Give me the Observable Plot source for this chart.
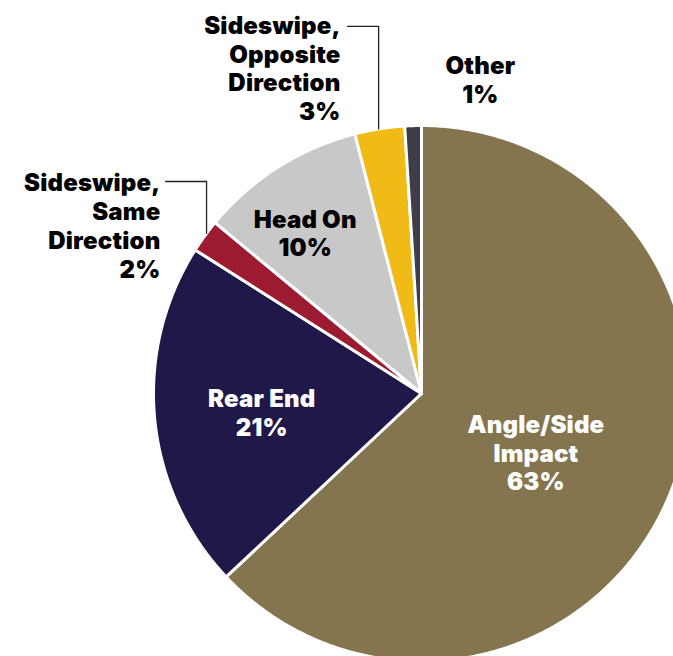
<!DOCTYPE html>
<html>
<head>
<meta charset="utf-8">
<script src="https://cdn.jsdelivr.net/npm/d3@7"></script>
<script src="https://cdn.jsdelivr.net/npm/@observablehq/plot@0.6"></script>
<style>
  html, body { margin: 0; padding: 0; background: #fff; overflow: hidden; }
  #chart svg { display: block; overflow: hidden; }
  #chart svg text { letter-spacing: 0.2px; }
</style>
</head>
<body>
<div id="chart"></div>
<script>
// ---- data ----
const categories = ["Angle/Side Impact", "Rear End", "Sideswipe, Same Direction", "Head On", "Sideswipe, Opposite Direction", "Other"];
const values = [63, 21, 2, 10, 3, 1];
const colors = ["#85754E", "#21184A", "#9C1B30", "#C8C8C8", "#F1BB17", "#3E3E48"];
const labelLines = [
  ["Angle/Side", "Impact", "63%"],
  ["Rear End", "21%"],
  ["Sideswipe,", "Same", "Direction", "2%"],
  ["Head On", "10%"],
  ["Sideswipe,", "Opposite", "Direction", "3%"],
  ["Other", "1%"]
];
const labelColors = ["#fff", "#fff", "#000", "#000", "#000", "#000"];

// ---- layout (in pie-radius units) ----
const labelLayout = [
  {mode: "in", r: 0.48, dBearing: 3.8},
  {mode: "in", r: 0.60, dBearing: -1.2},
  {mode: "out", x: -0.974, y: 0.627, anchor: "end", leader: {x0: -0.955, xe: -0.802, y: 0.791}},
  {mode: "in", r: 0.74, dBearing: -3.5},
  {mode: "out", x: -0.302, y: 1.215, anchor: "end", leader: {x0: -0.276, xe: -0.160, y: 1.37}},
  {mode: "out", x: 0.220, y: 1.172, anchor: "middle"}
];

// ---- build geometry from data ----
const total = d3.sum(values);
const slices = [];
let acc = 0;
values.forEach((v, i) => {
  const a0 = acc / total * 360, a1 = (acc + v) / total * 360;
  acc += v;
  slices.push({cat: categories[i], a0, a1, mid: (a0 + a1) / 2, i});
});
const toXY = (bearing, r) => {
  const t = bearing * Math.PI / 180;
  return [r * Math.sin(t), r * Math.cos(t)];
};
const arcPts = [];
slices.forEach(s => {
  arcPts.push({cat: s.cat, x: 0, y: 0});
  const n = Math.max(4, Math.ceil((s.a1 - s.a0) / 0.5));
  for (let k = 0; k <= n; k++) {
    const [x, y] = toXY(s.a0 + (s.a1 - s.a0) * k / n, 1);
    arcPts.push({cat: s.cat, x, y});
  }
  arcPts.push({cat: s.cat, x: 0, y: 0});
});

const labels = slices.map(s => {
  const L = labelLayout[s.i];
  let x, y;
  if (L.mode === "in") { [x, y] = toXY(s.mid + L.dBearing, L.r); }
  else { x = L.x; y = L.y; }
  return {text: labelLines[s.i].join("\n"), x, y, color: labelColors[s.i], anchor: L.mode === "in" ? "middle" : L.anchor};
});

const leaders = [];
labelLayout.forEach((L, i) => {
  if (!L.leader) return;
  const {x0, xe, y} = L.leader;
  const yEnd = Math.sqrt(1 - xe * xe);
  leaders.push({k: i, x: x0, y}, {k: i, x: xe, y}, {k: i, x: xe, y: yEnd});
});

const font = "Inter, Lato, sans-serif";
const mkText = (anchor) => Plot.text(labels.filter(d => d.anchor === anchor), {
  x: "x", y: "y", text: "text", fill: "color",
  textAnchor: anchor, lineAnchor: "middle", lineHeight: 1.2,
  fontSize: 24, fontWeight: 900, fontFamily: font
});

const chart = Plot.plot({
  width: 673,
  height: 656,
  margin: 0,
  x: {domain: [-1, 1], range: [153, 689], axis: null},
  y: {domain: [-1, 1], range: [661, 125], axis: null},
  color: {domain: categories, range: colors},
  style: {background: "#fff"},
  marks: [
    Plot.line(arcPts, {x: "x", y: "y", z: "cat", fill: "cat", stroke: "#fff", strokeWidth: 3, strokeLinejoin: "round"}),
    Plot.line(leaders, {x: "x", y: "y", z: "k", stroke: "#222", strokeWidth: 1.3}),
    mkText("middle"),
    mkText("end")
  ]
});
document.getElementById("chart").appendChild(chart);
</script>
</body>
</html>
